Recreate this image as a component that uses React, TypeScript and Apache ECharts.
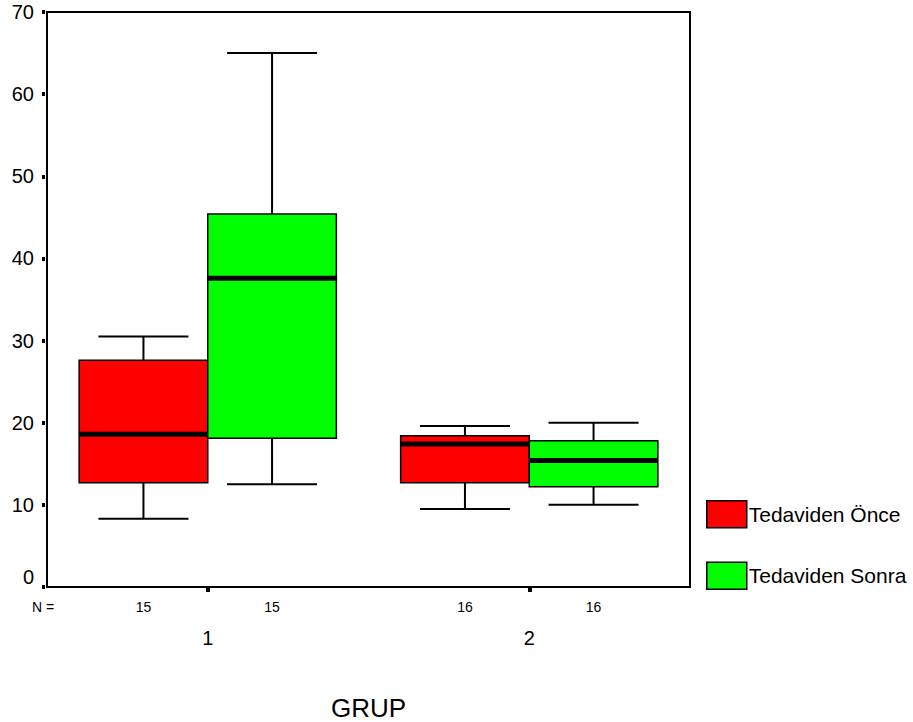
import React, { useEffect, useRef } from "react";
import * as echarts from "echarts";

// Categories (GRUP)
const groups = ["1", "2"];
// Box statistics per group: [min, Q1, median, Q3, max]
const onceStats = [
  [8.3, 12.7, 18.6, 27.6, 30.5],
  [9.5, 12.7, 17.4, 18.4, 19.6],
];
const sonraStats = [
  [12.5, 18.1, 37.6, 45.4, 65.0],
  [10.0, 12.2, 15.4, 17.8, 20.0],
];
// Number of cases per box
const onceN = [15, 16];
const sonraN = [15, 16];
const seriesNames = ["Tedaviden Önce", "Tedaviden Sonra"];
const seriesColors = ["#FF0000", "#00FF00"];

const FONT = "Arial, 'Liberation Sans', Helvetica, sans-serif";
const SIDE = 0.2; // offset of a box from the group centre, in bands

function makeRender(side: number) {
  return (_params: any, api: any) => {
    const g = api.value(0);
    const mn = api.value(1);
    const q1 = api.value(2);
    const md = api.value(3);
    const q3 = api.value(4);
    const mx = api.value(5);
    const band = api.size([1, 0])[0];
    const c0 = api.coord([g, 0]);
    const cx = c0[0] + side * SIDE * band;
    const hw = SIDE * band;
    const capHalf = hw * 0.7;
    const y = (v: number) => api.coord([g, v])[1];
    const lineStyle = { stroke: "#000", lineWidth: 2 };
    return {
      type: "group",
      children: [
        {
          type: "line",
          shape: { x1: cx, y1: y(q3), x2: cx, y2: y(mx) },
          style: lineStyle,
        },
        {
          type: "line",
          shape: { x1: cx, y1: y(q1), x2: cx, y2: y(mn) },
          style: lineStyle,
        },
        {
          type: "line",
          shape: { x1: cx - capHalf, y1: y(mx), x2: cx + capHalf, y2: y(mx) },
          style: lineStyle,
        },
        {
          type: "line",
          shape: { x1: cx - capHalf, y1: y(mn), x2: cx + capHalf, y2: y(mn) },
          style: lineStyle,
        },
        {
          type: "rect",
          shape: { x: cx - hw, y: y(q3), width: 2 * hw, height: y(q1) - y(q3) },
          style: { fill: api.visual("color"), stroke: "#000", lineWidth: 1.5 },
        },
        {
          type: "line",
          shape: { x1: cx - hw, y1: y(md), x2: cx + hw, y2: y(md) },
          style: { stroke: "#000", lineWidth: 5 },
        },
      ],
    };
  };
}

export default function App() {
  const ref = useRef<HTMLDivElement>(null);
  useEffect(() => {
    document.body.style.margin = "0";
    if (!ref.current) return;
    const chart = echarts.init(ref.current, undefined, { renderer: "svg" });

    const nPositions: number[] = [];
    const nLabels: string[] = [];
    groups.forEach((_, i) => {
      nPositions.push(i + 0.5 - SIDE);
      nLabels.push(String(onceN[i]));
      nPositions.push(i + 0.5 + SIDE);
      nLabels.push(String(sonraN[i]));
    });

    const option: any = {
      animation: false,
      backgroundColor: "#fff",
      grid: {
        left: 47,
        right: 223,
        top: 12,
        bottom: 135,
        show: true,
        borderColor: "#000",
        borderWidth: 2,
        backgroundColor: "transparent",
        containLabel: false,
        outerBoundsMode: "none",
      },
      legend: {
        orient: "vertical",
        left: 706,
        top: 500,
        padding: 0,
        itemWidth: 40,
        itemHeight: 27,
        itemGap: 33,
        icon: "rect",
        data: seriesNames.map((n, i) => ({
          name: n,
          itemStyle: { color: seriesColors[i], borderColor: "#000", borderWidth: 1.5 },
        })),
        textStyle: { fontSize: 21, color: "#000", fontFamily: FONT, padding: [0, 0, 0, -3] },
      },
      xAxis: [
        {
          type: "category",
          data: groups,
          position: "bottom",
          axisLine: { show: true, lineStyle: { color: "#000", width: 2 } },
          axisTick: { show: true, alignWithLabel: true, length: 5, lineStyle: { color: "#000", width: 4 } },
          axisLabel: { margin: 41, fontSize: 20, color: "#000", fontFamily: FONT },
          splitLine: { show: false },
          name: "GRUP",
          nameLocation: "middle",
          nameGap: 108,
          nameTextStyle: { fontSize: 26, color: "#000", fontFamily: FONT },
        },
        {
          type: "value",
          min: 0,
          max: groups.length,
          position: "bottom",
          axisLine: { show: false },
          axisTick: { show: false },
          splitLine: { show: false },
          axisLabel: {
            show: true,
            customValues: nPositions,
            margin: 13,
            fontSize: 14,
            color: "#000",
            fontFamily: FONT,
            formatter: (v: number) => {
              let best = 0;
              nPositions.forEach((p, i) => {
                if (Math.abs(p - v) < Math.abs(nPositions[best] - v)) best = i;
              });
              return nLabels[best];
            },
          },
        },
      ],
      yAxis: [
        {
          type: "value",
          min: 0,
          max: 70,
          interval: 10,
          axisLine: { show: true, lineStyle: { color: "#000", width: 2 } },
          axisTick: { show: false },
          splitLine: { show: false },
          axisLabel: {
            margin: 13,
            fontSize: 20,
            color: "#000",
            fontFamily: FONT,
            verticalAlignMinLabel: "bottom",
          },
        },
        {
          type: "value",
          min: 0,
          max: 70,
          interval: 10,
          position: "left",
          offset: 2,
          axisLine: { show: false },
          axisTick: { show: true, length: 3, lineStyle: { color: "#000", width: 4 } },
          axisLabel: { show: false },
          splitLine: { show: false },
        },
      ],
      graphic: [
        {
          type: "text",
          left: 32,
          top: 600,
          style: { text: "N =", fontSize: 14, fill: "#000", font: `14px ${FONT}` },
        },
      ],
      series: [
        {
          name: seriesNames[0],
          type: "custom",
          xAxisIndex: 0,
          yAxisIndex: 0,
          itemStyle: { color: seriesColors[0], borderColor: "#000", borderWidth: 1.5 },
          encode: { x: 0, y: [1, 2, 3, 4, 5] },
          renderItem: makeRender(-1),
          data: onceStats.map((s, i) => [i, ...s]),
        },
        {
          name: seriesNames[1],
          type: "custom",
          xAxisIndex: 0,
          yAxisIndex: 0,
          itemStyle: { color: seriesColors[1], borderColor: "#000", borderWidth: 1.5 },
          encode: { x: 0, y: [1, 2, 3, 4, 5] },
          renderItem: makeRender(1),
          data: sonraStats.map((s, i) => [i, ...s]),
        },
      ],
    };
    chart.setOption(option);
    return () => chart.dispose();
  }, []);
  return <div ref={ref} style={{ width: 913, height: 722 }} />;
}
